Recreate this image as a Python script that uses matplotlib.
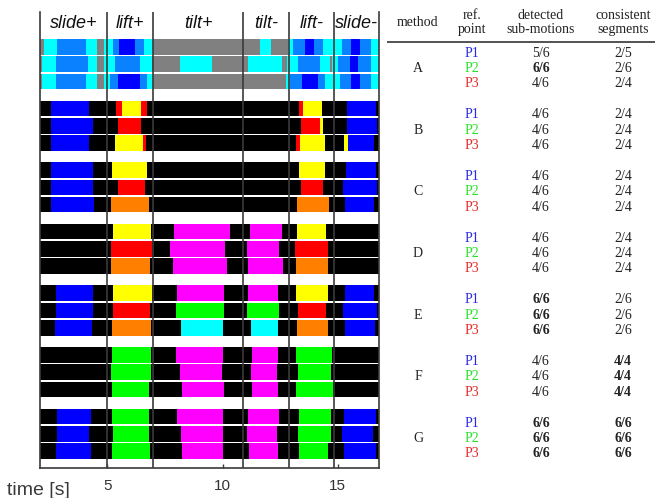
import matplotlib
matplotlib.use("Agg")
import matplotlib.pyplot as plt

# ---- time axis and motion phases -------------------------------------------
T_START, T_END = 2.07, 16.8
PHASE_EDGES = [5.0, 7.0, 10.9, 12.9, 14.85]
PHASE_NAMES = ["slide+", "lift+", "tilt+", "tilt-", "lift-", "slide-"]
TIME_TICKS = [5, 10, 15]

METHODS = ["A", "B", "C", "D", "E", "F", "G"]
REF_POINTS = ["P1", "P2", "P3"]
REF_COLORS = ["#2828e6", "#28e028", "#e62828"]

# sub-motion classes -> colours
PALETTE = {
    "k": "#000000", "gy": "#808080", "c": "#00ffff", "lb": "#0a82ff",
    "b": "#0000ff", "r": "#ff0000", "y": "#ffff00", "o": "#ff8000",
    "m": "#ff00ff", "g": "#00ff00",
}

# segmentations: (segment start time [s], class); each segment lasts to the next start
A_P1 = [(2.07, "gy"), (2.25, "c"), (2.79, "lb"), (4.07, "c"), (4.54, "gy"), (4.86, "c"),
        (5.25, "lb"), (5.51, "b"), (6.21, "lb"), (6.60, "c"), (6.97, "gy"), (11.63, "c"),
        (12.11, "gy"), (12.83, "c"), (13.08, "lb"), (13.59, "b"), (13.99, "lb"), (14.38, "c"),
        (15.18, "lb"), (15.57, "b"), (15.98, "lb"), (16.44, "c")]
A_P2 = [(2.07, "gy"), (2.14, "c"), (2.76, "lb"), (4.14, "c"), (4.54, "gy"), (4.86, "c"),
        (5.33, "lb"), (6.43, "c"), (6.93, "gy"), (8.17, "c"), (9.53, "gy"), (11.12, "c"),
        (12.60, "gy"), (12.79, "c"), (13.30, "lb"), (14.24, "c"), (14.67, "gy"), (14.77, "c"),
        (15.03, "lb"), (15.54, "b"), (15.90, "lb"), (16.44, "c")]
A_P3 = [(2.07, "gy"), (2.14, "c"), (2.76, "lb"), (4.07, "c"), (4.54, "gy"), (4.86, "c"),
        (5.11, "lb"), (5.44, "b"), (6.43, "lb"), (6.70, "c"), (6.97, "gy"), (12.74, "c"),
        (12.93, "lb"), (13.44, "b"), (14.17, "lb"), (14.46, "c"), (15.11, "lb"), (15.57, "b"),
        (15.98, "lb"), (16.44, "c")]
B_P1 = [(2.07, "k"), (2.54, "b"), (4.21, "k"), (5.37, "r"), (5.62, "y"), (6.46, "r"),
        (6.70, "k"), (13.34, "r"), (13.49, "y"), (14.33, "k"), (15.40, "b"), (16.67, "k")]
B_P2 = [(2.07, "k"), (2.54, "b"), (4.38, "k"), (5.44, "r"), (6.46, "k"), (13.41, "r"),
        (14.24, "y"), (14.38, "k"), (15.40, "b"), (16.70, "k")]
B_P3 = [(2.07, "k"), (2.54, "b"), (4.21, "k"), (5.33, "y"), (6.56, "r"), (6.67, "k"),
        (13.20, "r"), (13.37, "y"), (14.47, "k"), (15.30, "y"), (15.44, "b"), (16.60, "k")]
C_P1 = [(2.07, "k"), (2.54, "b"), (4.38, "k"), (5.20, "y"), (6.72, "k"), (13.34, "y"),
        (14.47, "k"), (15.37, "b"), (16.67, "k")]
C_P2 = [(2.07, "k"), (2.54, "b"), (4.38, "k"), (5.44, "r"), (6.64, "k"), (13.41, "r"),
        (14.38, "k"), (15.25, "b"), (16.70, "k")]
C_P3 = [(2.07, "k"), (2.54, "b"), (4.43, "k"), (5.15, "o"), (6.82, "k"), (13.23, "o"),
        (14.62, "k"), (15.34, "b"), (16.60, "k")]
D_P1 = [(2.07, "k"), (5.23, "y"), (6.88, "k"), (7.89, "m"), (10.33, "k"), (11.20, "m"),
        (12.57, "k"), (13.23, "y"), (14.50, "k")]
D_P2 = [(2.07, "k"), (5.14, "r"), (6.95, "k"), (7.72, "m"), (10.11, "k"), (11.08, "m"),
        (12.47, "k"), (13.15, "r"), (14.57, "k")]
D_P3 = [(2.07, "k"), (5.17, "o"), (6.85, "k"), (7.83, "m"), (10.21, "k"), (11.12, "m"),
        (12.64, "k"), (13.18, "o"), (14.60, "k")]
E_P1 = [(2.07, "k"), (2.76, "b"), (4.38, "k"), (5.23, "y"), (6.92, "k"), (8.03, "m"),
        (10.07, "k"), (11.12, "m"), (12.43, "k"), (13.18, "y"), (14.57, "k"), (15.33, "b"),
        (16.60, "k")]
E_P2 = [(2.07, "k"), (2.76, "b"), (4.38, "k"), (5.25, "r"), (6.85, "k"), (7.97, "g"),
        (10.07, "k"), (11.08, "g"), (12.47, "k"), (13.30, "r"), (14.50, "k"), (15.25, "b"),
        (16.73, "k")]
E_P3 = [(2.07, "k"), (2.72, "b"), (4.34, "k"), (5.18, "o"), (6.88, "k"), (8.18, "c"),
        (10.01, "k"), (11.24, "c"), (12.40, "k"), (13.23, "o"), (14.57, "k"), (15.33, "b"),
        (16.63, "k")]
F_P1 = [(2.07, "k"), (5.18, "g"), (6.88, "k"), (7.97, "m"), (10.01, "k"), (11.27, "m"),
        (12.40, "k"), (13.18, "g"), (14.75, "k")]
F_P2 = [(2.07, "k"), (5.14, "g"), (6.89, "k"), (8.15, "m"), (9.99, "k"), (11.23, "m"),
        (12.38, "k"), (13.30, "g"), (14.72, "k")]
F_P3 = [(2.07, "k"), (5.18, "g"), (6.80, "k"), (8.25, "m"), (10.07, "k"), (11.30, "m"),
        (12.40, "k"), (13.18, "g"), (14.79, "k")]
G_P1 = [(2.07, "k"), (2.79, "b"), (4.27, "k"), (5.21, "g"), (6.82, "k"), (8.01, "m"),
        (10.01, "k"), (11.10, "m"), (12.47, "k"), (13.34, "g"), (14.72, "k"), (15.29, "b"),
        (16.66, "k")]
G_P2 = [(2.07, "k"), (2.79, "b"), (4.21, "k"), (5.25, "g"), (6.82, "k"), (8.18, "m"),
        (10.01, "k"), (11.08, "m"), (12.38, "k"), (13.30, "g"), (14.72, "k"), (15.21, "b"),
        (16.56, "k")]
G_P3 = [(2.07, "k"), (2.76, "b"), (4.27, "k"), (5.21, "g"), (6.85, "k"), (8.25, "m"),
        (10.01, "k"), (11.15, "m"), (12.43, "k"), (13.34, "g"), (14.57, "k"), (15.30, "b"),
        (16.66, "k")]

SEGMENTATIONS = [
    [A_P1, A_P2, A_P3], [B_P1, B_P2, B_P3], [C_P1, C_P2, C_P3], [D_P1, D_P2, D_P3],
    [E_P1, E_P2, E_P3], [F_P1, F_P2, F_P3], [G_P1, G_P2, G_P3],
]

# evaluation scores per method (rows: P1, P2, P3)
DETECTED = [["5/6", "6/6", "4/6"], ["4/6", "4/6", "4/6"], ["4/6", "4/6", "4/6"],
            ["4/6", "4/6", "4/6"], ["6/6", "6/6", "6/6"], ["4/6", "4/6", "4/6"],
            ["6/6", "6/6", "6/6"]]
CONSISTENT = [["2/5", "2/6", "2/4"], ["2/4", "2/4", "2/4"], ["2/4", "2/4", "2/4"],
              ["2/4", "2/4", "2/4"], ["2/6", "2/6", "2/6"], ["4/4", "4/4", "4/4"],
              ["6/6", "6/6", "6/6"]]

# ---- layout (pixels) --------------------------------------------------------
W, H = 655, 498
AX_L, AX_R, AX_T, AX_B = 40, 379, 12, 468
FIRST_TOP, ROW_PITCH, GROUP_PITCH, BAR_H = 27.0, 17.3, 61.6, 15.6
LINE_COL = "#3a3a3a"
TXT_COL = "#222222"

fig = plt.figure(figsize=(W / 100, H / 100), dpi=100)
fig.patch.set_facecolor("white")

ax = fig.add_axes([AX_L / W, 1 - AX_B / H, (AX_R - AX_L) / W, (AX_B - AX_T) / H])
ax.set_xlim(T_START, T_END)
ax.set_ylim(AX_B - AX_T, 0)

for g, group in enumerate(SEGMENTATIONS):
    for r, row in enumerate(group):
        top = FIRST_TOP + g * GROUP_PITCH + r * ROW_PITCH
        starts = [s for s, _ in row]
        ends = starts[1:] + [T_END]
        spans = [(s, e - s) for s, e in zip(starts, ends)]
        colors = [PALETTE[c] for _, c in row]
        ax.broken_barh(spans, (top, BAR_H), facecolors=colors, edgecolor="none",
                       linewidth=0, antialiased=False, zorder=2)

for x in PHASE_EDGES:
    ax.axvline(x, color=LINE_COL, lw=1.2, zorder=5)

bounds = [T_START] + PHASE_EDGES + [T_END]
for name, a, b in zip(PHASE_NAMES, bounds[:-1], bounds[1:]):
    ax.text((a + b) / 2, 11, name, ha="center", va="center", fontsize=13,
            style="italic", family="Liberation Sans", color="#111111")

for side in ("left", "right", "bottom"):
    ax.spines[side].set_color(LINE_COL)
    ax.spines[side].set_linewidth(1.2)
ax.spines["top"].set_visible(False)
ax.set_yticks([])
ax.set_xticks(TIME_TICKS)
ax.set_xticklabels([str(t) for t in TIME_TICKS], family="Liberation Sans",
                   fontsize=11, color="#333333")
ax.tick_params(axis="x", direction="in", length=3, width=1, color=LINE_COL, pad=8)

fig.text(7 / W, 1 - 495 / H, "time [s]", ha="left", va="baseline", fontsize=14,
         family="Liberation Sans", color="#3a3a3a")

# ---- results table ----------------------------------------------------------
tx = fig.add_axes([385 / W, 0, (W - 385) / W, 1])
tx.set_xlim(385, W)
tx.set_ylim(H, 0)
tx.axis("off")

serif = dict(family="Liberation Serif", fontsize=10, color=TXT_COL, ha="center",
             va="baseline")
COL_X = [418, 472, 541, 623]
tx.text(COL_X[0], 26, "method", **serif)
for cx, (l1, l2) in zip(COL_X[1:], [("ref.", "point"), ("detected", "sub-motions"),
                                    ("consistent", "segments")]):
    tx.text(cx, 18.5, l1, **serif)
    tx.text(cx, 32.5, l2, **serif)
tx.plot([387, W], [41.7, 41.7], color="#444444", lw=1.3, solid_capstyle="butt")


def is_full(score):
    num, den = score.split("/")
    return num == den


for g, method in enumerate(METHODS):
    mid = 71.8 + g * 61.7
    tx.text(COL_X[0], mid, method, **serif)
    for r, (pt, pc) in enumerate(zip(REF_POINTS, REF_COLORS)):
        y = mid + (r - 1) * 15.3
        tx.text(COL_X[1], y, pt, **{**serif, "color": pc})
        for cx, score in ((COL_X[2], DETECTED[g][r]), (COL_X[3], CONSISTENT[g][r])):
            tx.text(cx, y, score, fontweight="bold" if is_full(score) else "normal",
                    **serif)

fig.savefig("out.png", dpi=100)
